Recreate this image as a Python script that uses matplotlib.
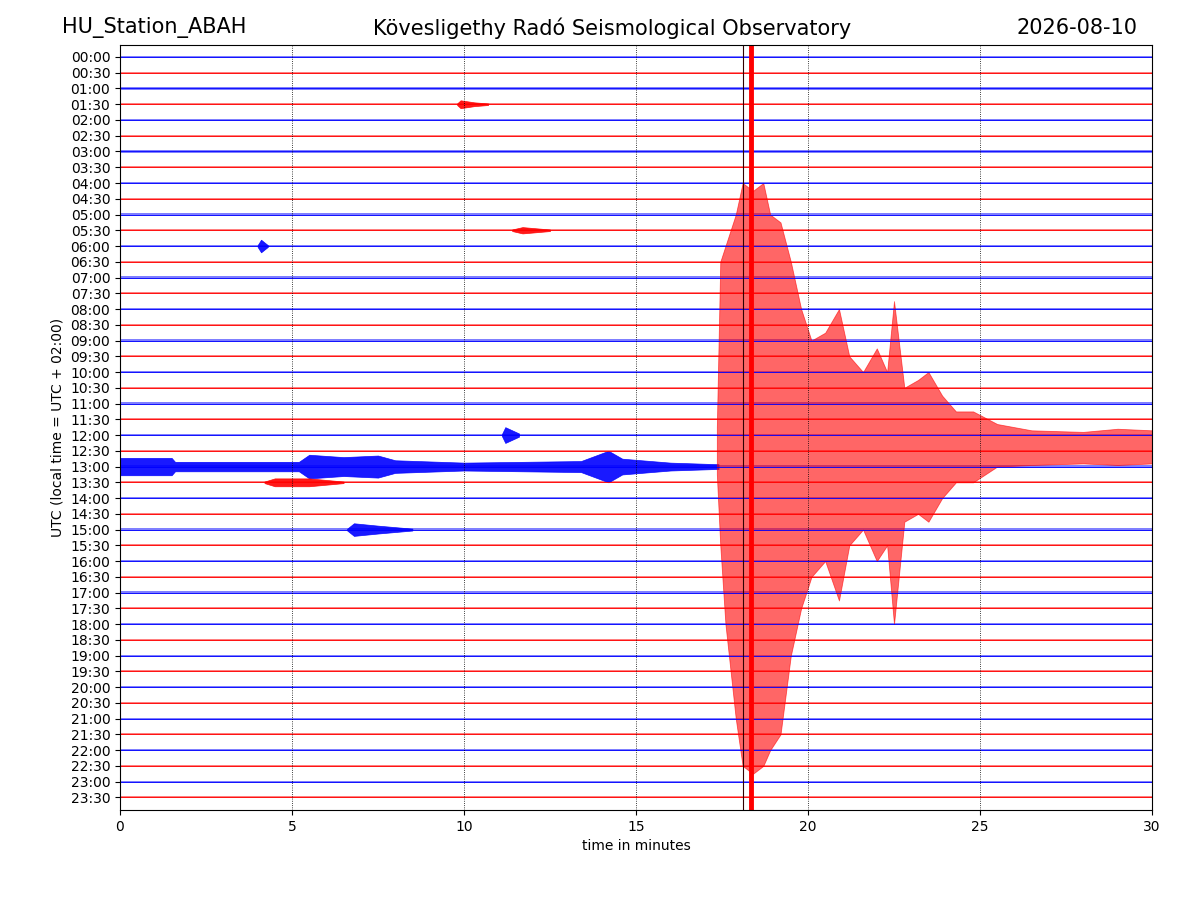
import matplotlib
matplotlib.use("Agg")
import matplotlib.pyplot as plt
import numpy as np

station = "HU_Station_ABAH"
observatory = "Kövesligethy Radó Seismological Observatory"
day = "2026-08-10"

row_labels = ["%02d:%02d" % (h, m) for h in range(24) for m in (0, 30)]
noise_amp = 0.07  # background noise half-width, in row units

# envelope of the big quake, drawn on the 12:30 row (in row units, up / down)
eq_row = 25
eq_t = [17.35, 17.45, 17.6, 17.9, 18.1, 18.4, 18.7, 18.9, 19.2, 19.5, 19.8, 20.1, 20.5, 20.9,
        21.2, 21.6, 22.0, 22.3, 22.5, 22.8, 23.2, 23.5, 23.9, 24.3, 24.8, 25.5, 26.5, 28.0, 29.0, 30.0]
eq_up = [1.5, 12.0, 13.0, 15.0, 17.0, 16.5, 17.0, 15.0, 14.5, 12.0, 9.0, 7.0, 7.5, 9.0,
         6.0, 5.0, 6.5, 5.0, 9.5, 4.0, 4.5, 5.0, 3.5, 2.5, 2.5, 1.7, 1.3, 1.2, 1.4, 1.3]
eq_dn = [1.5, 6.0, 11.0, 17.0, 20.0, 20.5, 20.0, 19.0, 18.0, 13.0, 10.0, 8.0, 7.0, 9.5,
         6.0, 5.0, 7.0, 6.0, 11.0, 4.5, 4.0, 4.5, 3.0, 2.0, 2.0, 1.0, 0.9, 0.8, 0.9, 0.8]

# smaller local events: (row, times, half-amplitudes)
events = [
    (3, [9.8, 9.9, 10.3, 10.7], [0.05, 0.25, 0.12, 0.05]),
    (12, [4.0, 4.1, 4.3], [0.05, 0.4, 0.05]),
    (11, [11.4, 11.7, 12.5], [0.05, 0.2, 0.05]),
    (24, [11.1, 11.2, 11.6], [0.05, 0.5, 0.1]),
    (26, [0.0, 1.5, 1.6, 5.2, 5.5, 6.5, 7.5, 8.0, 10.0, 13.4, 14.2, 14.6, 16.0, 17.4],
         [0.55, 0.55, 0.3, 0.3, 0.75, 0.6, 0.7, 0.4, 0.25, 0.35, 1.0, 0.5, 0.25, 0.15]),
    (27, [4.2, 4.5, 5.5, 6.5], [0.05, 0.25, 0.25, 0.05]),
    (30, [6.6, 6.8, 7.5, 8.5], [0.05, 0.4, 0.25, 0.06]),
]

fig, ax = plt.subplots(figsize=(12, 9), dpi=100)
fig.subplots_adjust(left=0.1, right=0.96, top=0.95, bottom=0.1)

for i, lab in enumerate(row_labels):
    col = "blue" if i % 2 == 0 else "red"
    ax.fill_between([0, 30], [i - noise_amp] * 2, [i + noise_amp] * 2, color=col, lw=0, alpha=0.5)
    ax.plot([0, 30], [i, i], color=col, lw=0.6)

for row, ts, amps in events:
    col = "blue" if row % 2 == 0 else "red"
    a = np.array(amps)
    ax.fill_between(ts, row - a, row + a, color=col, lw=0.5, alpha=0.9)

up = eq_row - np.array(eq_up)
dn = eq_row + np.array(eq_dn)
ax.fill_between(eq_t, up, dn, color="red", lw=0.6, alpha=0.6)
ax.axvline(18.1, color="#300000", lw=0.8)
ax.axvline(18.35, color="red", lw=3.5)

for x in [5, 10, 15, 20, 25]:
    ax.axvline(x, color="black", ls=":", lw=0.6)

ax.set_xlim(0, 30)
ax.set_ylim(47.8, -0.76)
ax.set_yticks(range(len(row_labels)))
ax.set_yticklabels(row_labels)
ax.set_xlabel("time in minutes")
ax.set_ylabel("UTC (local time = UTC + 02:00)")

fig.text(0.052, 0.969, station, fontsize=15, va="center")
fig.text(0.51, 0.969, observatory, fontsize=15, va="center", ha="center")
fig.text(0.948, 0.969, day, fontsize=15, va="center", ha="right")

fig.savefig("out.png")
